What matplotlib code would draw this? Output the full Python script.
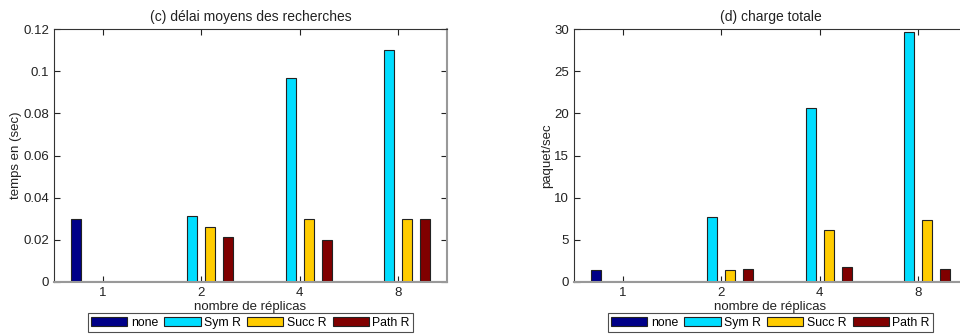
import numpy as np
import matplotlib.pyplot as plt
from matplotlib.patches import Patch

plt.rcParams['font.family'] = ['Liberation Sans', 'DejaVu Sans']
plt.rcParams['font.size'] = 9.5

replicas = ['1', '2', '4', '8']
series = ['none', 'Sym R', 'Succ R', 'Path R']
colors = ['#000088', '#00DDFF', '#FFCC00', '#800000']

# (c) mean search delay, seconds
delay_none = [0.030, 0.0, 0.0, 0.0]
delay_sym = [0.0, 0.0315, 0.0967, 0.110]
delay_succ = [0.0, 0.0262, 0.0301, 0.030]
delay_path = [0.0, 0.0212, 0.0201, 0.030]

# (d) total load, packets per second
load_none = [1.39, 0.0, 0.0, 0.0]
load_sym = [0.0, 7.65, 20.6, 29.6]
load_succ = [0.0, 1.47, 6.14, 7.33]
load_path = [0.0, 1.59, 1.74, 1.59]

W, H = 960, 336
fig = plt.figure(figsize=(W / 100, H / 100), dpi=100)


def grouped(ax, data, ylim, yticks, yticklabels, title, ylabel):
    x = np.arange(1, len(replicas) + 1)
    step = 0.183
    for i, vals in enumerate(data):
        ax.bar(x + (i - 1.5) * step, vals, width=0.1, color=colors[i],
               edgecolor='#222222', linewidth=0.8, zorder=2)
    ax.axhline(0, color='#999999', lw=1.5, zorder=1)
    ax.set_xlim(0.5, 4.5)
    ax.set_ylim(*ylim)
    ax.set_xticks(x)
    ax.set_xticklabels(replicas)
    ax.set_yticks(yticks)
    ax.set_yticklabels(yticklabels)
    ax.tick_params(direction='in', length=4, width=0.8, top=True, right=True,
                   colors='#222222', labelcolor='#222222', pad=3.5)
    for side in ['top', 'left']:
        ax.spines[side].set_color('#333333')
        ax.spines[side].set_linewidth(0.8)
    for side in ['right', 'bottom']:
        ax.spines[side].set_color('#999999')
        ax.spines[side].set_linewidth(1.5)
    ax.set_title(title, fontsize=10, pad=6, color='#222222')
    ax.set_xlabel('nombre de réplicas', labelpad=1.5, color='#222222')
    ax.set_ylabel(ylabel, labelpad=1, color='#222222')
    handles = [Patch(facecolor=c, edgecolor='#222222', linewidth=0.8) for c in colors]
    leg = ax.legend(handles, series, ncol=4, loc='upper center',
                    bbox_to_anchor=(0.5, -0.122), frameon=True, fancybox=False,
                    fontsize=8.8, handlelength=2.95, handleheight=0.85,
                    handletextpad=0.3, columnspacing=0.5, borderpad=0.3,
                    borderaxespad=0)
    leg.get_frame().set_edgecolor('#222222')
    leg.get_frame().set_linewidth(0.8)


ax1 = fig.add_axes([54 / W, 1 - 282 / H, 393 / W, 253 / H])
grouped(ax1, [delay_none, delay_sym, delay_succ, delay_path],
        (0, 0.12), [0, 0.02, 0.04, 0.06, 0.08, 0.1, 0.12],
        ['0', '0.02', '0.04', '0.06', '0.08', '0.1', '0.12'],
        '(c) délai moyens des recherches', 'temps en (sec)')

ax2 = fig.add_axes([574 / W, 1 - 282 / H, 393 / W, 253 / H])
grouped(ax2, [load_none, load_sym, load_succ, load_path],
        (0, 30), [0, 5, 10, 15, 20, 25, 30],
        ['0', '5', '10', '15', '20', '25', '30'],
        '(d) charge totale', 'paquet/sec')

fig.savefig('out.png', dpi=100)
